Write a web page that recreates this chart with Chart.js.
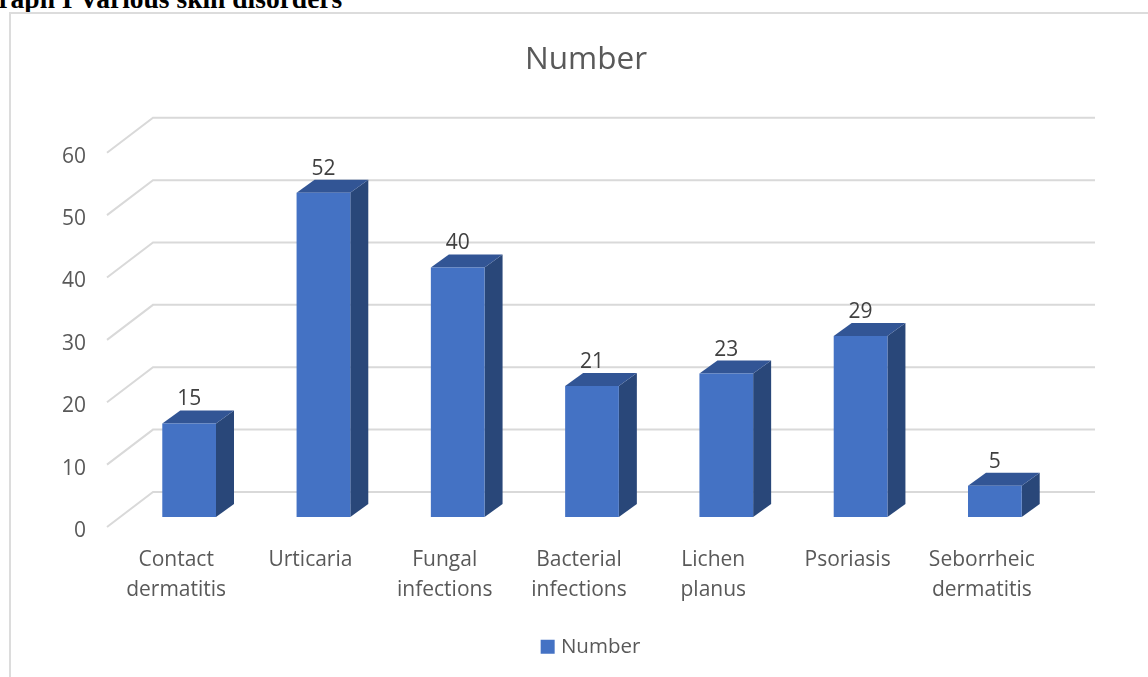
<!DOCTYPE html>
<html>
<head>
<meta charset="utf-8">
<title>Various skin disorders</title>
<script src="https://cdn.jsdelivr.net/npm/chart.js@4/dist/chart.umd.min.js"></script>
<style>
    html, body { margin: 0; padding: 0; background: #fff; overflow: hidden; }
    #page { position: relative; width: 1148px; height: 677px; overflow: hidden; }
    #caption {
        position: absolute; left: -23px; top: -17px; white-space: nowrap;
        font: bold 27.5px "Liberation Serif", serif; color: #000;
    }
    #box {
        position: absolute; left: 9px; top: 12px; right: 0; bottom: 0;
        border-left: 2px solid #dcdcdc; border-top: 2px solid #dcdcdc;
    }
    #chartWrap { position: absolute; left: 0; top: 0; width: 1148px; height: 677px; }
</style>
</head>
<body>
<div id="page">
    <div id="caption">Graph I Various skin disorders</div>
    <div id="box"></div>
    <div id="chartWrap"><canvas id="skinChart"></canvas></div>
</div>

<script>
// 🔹 DATA
const categories = [
    ["Contact", "dermatitis"],
    ["Urticaria"],
    ["Fungal", "infections"],
    ["Bacterial", "infections"],
    ["Lichen", "planus"],
    ["Psoriasis"],
    ["Seborrheic", "dermatitis"]
];
const numbers = [15, 52, 40, 21, 23, 29, 5];
const seriesName = "Number";
const chartFont = "'Open Sans', sans-serif";


// 🔹 3D LOOK (walls, grid and bar depth)
const barDepth = { x: 18, y: 13 };
const wall3d = {
    id: "wall3d",
    afterLayout(chart) {
        // title and legend are centred on the whole frame, not on the plot
        chart.titleBlock.left += 29;
        chart.titleBlock.right += 29;
        chart.legend.left += 35.5;
        chart.legend.right += 35.5;
    },
    beforeDatasetsDraw(chart) {
        const { ctx, chartArea, scales } = chart;
        const yScale = scales.y;

        // grid lines run along the floor side then along the back wall
        ctx.save();
        ctx.strokeStyle = "#d9d9d9";
        ctx.lineWidth = 2;
        yScale.ticks.forEach(tick => {
            const y = yScale.getPixelForValue(tick.value);
            ctx.beginPath();
            ctx.moveTo(chartArea.left - 15, y + 10);
            ctx.lineTo(chartArea.left + 31, y - 25);
            ctx.lineTo(chartArea.right + 33, y - 25);
            ctx.stroke();
        });

        // side and top faces of the bars
        chart.getDatasetMeta(0).data.forEach(bar => {
            const left = bar.x - bar.width / 2;
            const right = bar.x + bar.width / 2;
            const top = bar.y;
            const bottom = bar.base;

            ctx.fillStyle = "#294779";
            ctx.beginPath();
            ctx.moveTo(right, top);
            ctx.lineTo(right + barDepth.x, top - barDepth.y);
            ctx.lineTo(right + barDepth.x, bottom - barDepth.y);
            ctx.lineTo(right, bottom);
            ctx.closePath();
            ctx.fill();

            ctx.fillStyle = "#325595";
            ctx.beginPath();
            ctx.moveTo(left, top);
            ctx.lineTo(left + barDepth.x, top - barDepth.y);
            ctx.lineTo(right + barDepth.x, top - barDepth.y);
            ctx.lineTo(right, top);
            ctx.closePath();
            ctx.fill();
        });
        ctx.restore();
    },
    afterDatasetsDraw(chart) {
        const { ctx } = chart;
        ctx.save();
        ctx.fillStyle = "#404040";
        ctx.font = "21px " + chartFont;
        ctx.textAlign = "center";
        ctx.textBaseline = "middle";
        chart.getDatasetMeta(0).data.forEach((bar, i) => {
            ctx.fillText(numbers[i], bar.x, bar.y - 24);
        });
        ctx.restore();
    }
};


// 🔹 CHART
const ctx = document.getElementById("skinChart").getContext("2d");

new Chart(ctx, {
    type: "bar",
    data: {
        labels: categories,
        datasets: [{
            label: seriesName,
            data: numbers,
            backgroundColor: "#4472c4",
            barPercentage: 0.4,
            categoryPercentage: 1
        }]
    },
    options: {
        responsive: true,
        maintainAspectRatio: false,
        animation: false,
        layout: {
            padding: { left: 52, right: 86, top: 41, bottom: 10 }
        },
        plugins: {
            title: {
                display: true,
                text: seriesName,
                color: "#595959",
                font: { family: chartFont, size: 31.5, weight: "normal" },
                padding: { top: 0, bottom: 64 }
            },
            legend: {
                display: true,
                position: "bottom",
                labels: {
                    color: "#595959",
                    font: { family: chartFont, size: 20.5 },
                    usePointStyle: true,
                    pointStyle: "rect",
                    boxWidth: 6,
                    boxHeight: 14,
                    padding: 10
                }
            },
            tooltip: { enabled: false }
        },
        scales: {
            x: {
                grid: { display: false },
                border: { display: false },
                afterFit(scale) {
                    scale.height += 1.5;
                },
                ticks: {
                    color: "#595959",
                    font: { family: chartFont, size: 21, lineHeight: 1.43 },
                    labelOffset: -13,
                    padding: 20,
                    maxRotation: 0,
                    autoSkip: false
                }
            },
            y: {
                min: 0,
                max: 60,
                grid: { display: false },
                border: { display: false },
                afterFit(scale) {
                    scale.width = 70;
                },
                ticks: {
                    stepSize: 10,
                    color: "#595959",
                    font: { family: chartFont, size: 21 },
                    labelOffset: 14,
                    padding: 28
                }
            }
        }
    },
    plugins: [wall3d]
});
</script>
</body>
</html>
